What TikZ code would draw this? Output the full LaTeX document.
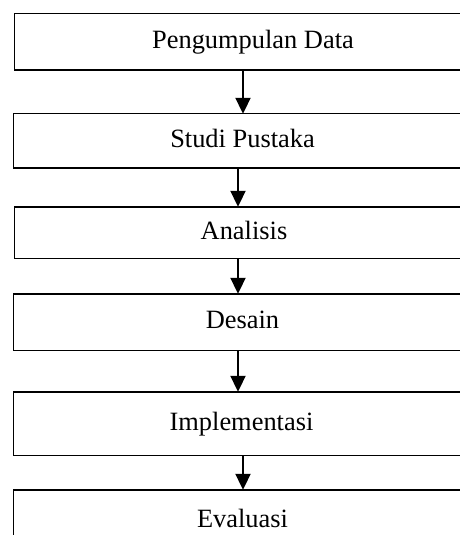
\documentclass[tikz,border=0pt]{standalone}
\usepackage{fontspec}
\setmainfont{Liberation Serif}
\usepackage{xcolor}
\usetikzlibrary{calc,arrows.meta}
\definecolor{ink}{HTML}{000000}
\definecolor{paper}{HTML}{FFFFFF}
\tikzset{
  stage/.style={rectangle, inner sep=0pt, text height=18bp, text depth=5bp,
    font=\fontsize{26.5}{31}\selectfont, text=ink},
  frame/.style={draw=ink, line width=1.4bp, line join=miter},
  flow/.style={draw=ink, line width=2bp, -{Triangle[width=15bp,length=16bp]}}
}

\begin{document}
\begin{tikzpicture}[x=1bp, y=-1bp]
  \fill[paper] (0,0) rectangle (460,535);
  \useasboundingbox (0,0) rectangle (460,535);

  \node[stage, minimum width=476bp, minimum height=56bp] (data)     at (253,42)    {Pengumpulan Data};
  \node[stage, minimum width=457bp, minimum height=54bp] (pustaka)  at (242.5,141) {Studi Pustaka};
  \node[stage, minimum width=458bp, minimum height=51bp] (analisis) at (244,232.5) {Analisis};
  \node[stage, minimum width=457bp, minimum height=56bp] (desain)   at (242.5,322) {Desain};
  \node[stage, minimum width=455bp, minimum height=63bp] (impl)     at (241.5,423.5) {Implementasi};
  \node[stage, minimum width=457bp, minimum height=61bp] (eval)     at (242.5,520.5) {Evaluasi};

  \coordinate (edge) at (460,0);
  \foreach \s in {data,pustaka,analisis,desain,impl,eval}
    \draw[frame] (\s.north west -| edge) -- (\s.north west) -- (\s.south west) -- (\s.south west -| edge);

  \coordinate (colA) at (243,0);
  \coordinate (colB) at (238,0);

  \draw[flow] (data.south -| colA) -- (pustaka.north -| colA);
  \draw[flow] (pustaka.south -| colB) -- (analisis.north -| colB);
  \draw[flow] (analisis.south -| colB) -- (desain.north -| colB);
  \draw[flow] (desain.south -| colB) -- (impl.north -| colB);
  \draw[flow] (impl.south -| colA) -- (eval.north -| colA);
\end{tikzpicture}
\end{document}
